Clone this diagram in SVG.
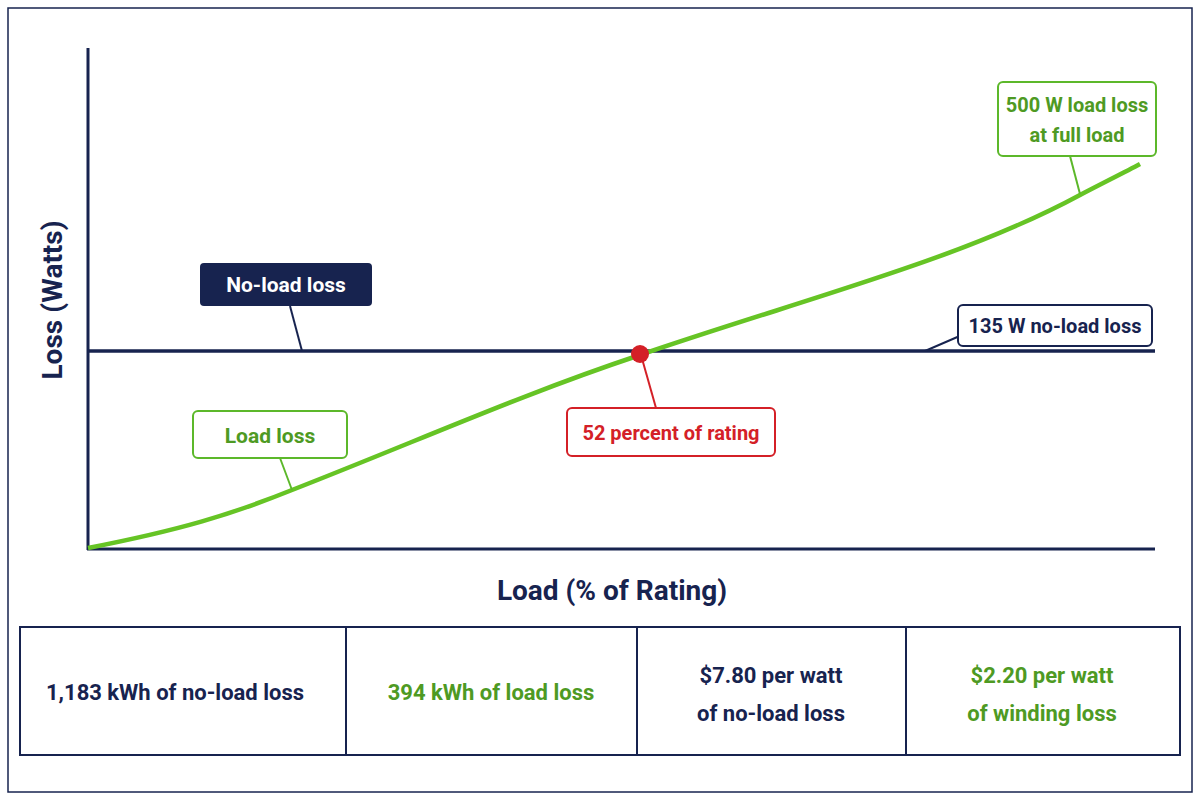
<svg xmlns="http://www.w3.org/2000/svg" width="1200" height="800" viewBox="0 0 1200 800">
<style>
text{font-family:Roboto,"Liberation Sans",sans-serif;font-weight:bold}
.n{fill:#17234f}.g{fill:#4e9a23}.r{fill:#d42027}
.ln{stroke:#17234f;stroke-width:2;fill:none}
.lg{stroke:#5cb82a;stroke-width:2;fill:none}
.lr{stroke:#d42027;stroke-width:2;fill:none}
.box{fill:#fff;stroke-width:2}
</style>
<rect width="1200" height="800" fill="#fff"/>
<rect x="8" y="8" width="1184" height="784" fill="none" stroke="#17234f" stroke-width="1.5"/>
<g id="axes">
<line x1="88" y1="48" x2="88" y2="550" stroke="#17234f" stroke-width="3"/>
<line x1="87" y1="549" x2="1155" y2="549" stroke="#17234f" stroke-width="3"/>
<line x1="88" y1="351" x2="1155" y2="351" stroke="#17234f" stroke-width="3.5"/>
<text x="55" y="300" class="n" font-size="28" text-anchor="middle" transform="rotate(-90 55 300)" dominant-baseline="middle">Loss (Watts)</text>
<text x="612" y="600" class="n" font-size="28" text-anchor="middle">Load (% of Rating)</text>
</g>
<g id="curve">
<path d="M88,548 C180,530 230,515 292,490 C420,440 520,395 640,355 C800,300 960,260 1080,195 C1105,182 1125,172 1140,164" fill="none" stroke="#66c425" stroke-width="4.5"/>
</g>
<g id="connectors">
<line class="ln" x1="290" y1="306" x2="302" y2="351"/>
<line class="ln" x1="925" y1="351" x2="962" y2="335"/>
<line class="lg" x1="1070" y1="156" x2="1080" y2="194"/>
<line class="lg" x1="280" y1="458" x2="292" y2="490"/>
<line class="lr" x1="641" y1="355" x2="656" y2="408"/>
</g>
<g id="point"><circle cx="640" cy="354" r="9" fill="#d42027"/></g>
<g id="noload-label">
<rect x="200" y="263" width="172" height="43" rx="4" fill="#17234f"/>
<text x="286" y="292" font-size="21" fill="#fff" text-anchor="middle">No-load loss</text>
</g>
<g id="w135-label">
<rect x="958" y="305" width="194" height="41" rx="5" class="box" stroke="#17234f"/>
<text x="1055" y="333" font-size="20" class="n" text-anchor="middle">135 W no-load loss</text>
</g>
<g id="w500-label">
<rect x="998" y="82" width="158" height="74" rx="5" class="box" stroke="#5cb82a"/>
<text x="1077" y="112" font-size="20" class="g" text-anchor="middle">500 W load loss</text>
<text x="1077" y="142" font-size="20" class="g" text-anchor="middle">at full load</text>
</g>
<g id="loadloss-label">
<rect x="193" y="411" width="154" height="47" rx="5" class="box" stroke="#5cb82a"/>
<text x="270" y="443" font-size="21" class="g" text-anchor="middle">Load loss</text>
</g>
<g id="pct-label">
<rect x="567" y="408" width="208" height="48" rx="5" class="box" stroke="#d42027"/>
<text x="671" y="440" font-size="20" class="r" text-anchor="middle">52 percent of rating</text>
</g>
<g id="table">
<rect x="20" y="627" width="1160" height="128" fill="none" stroke="#17234f" stroke-width="2"/>
<line class="ln" x1="346" y1="627" x2="346" y2="755"/>
<line class="ln" x1="637" y1="627" x2="637" y2="755"/>
<line class="ln" x1="906" y1="627" x2="906" y2="755"/>
<text x="175" y="700" font-size="22" class="n" text-anchor="middle">1,183 kWh of no-load loss</text>
<text x="491" y="700" font-size="22" class="g" text-anchor="middle">394 kWh of load loss</text>
<text x="771" y="683" font-size="22" class="n" text-anchor="middle">$7.80 per watt</text>
<text x="771" y="721" font-size="22" class="n" text-anchor="middle">of no-load loss</text>
<text x="1042" y="683" font-size="22" class="g" text-anchor="middle">$2.20 per watt</text>
<text x="1042" y="721" font-size="22" class="g" text-anchor="middle">of winding loss</text>
</g>
</svg>
